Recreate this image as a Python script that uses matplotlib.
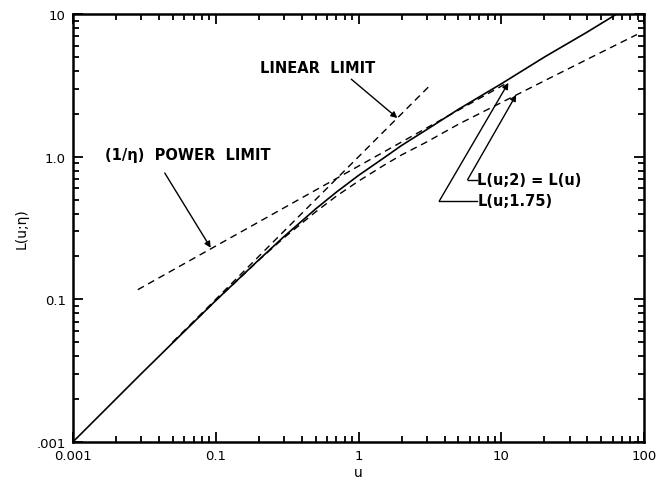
import matplotlib
matplotlib.use("Agg")
import matplotlib.pyplot as plt
from matplotlib.ticker import FixedLocator, LogLocator, NullFormatter

plt.rcParams['font.family'] = ['DejaVu Sans']

# L(u; 1.75) -- solid curve
u_175 = [0.01, 0.03, 0.1, 0.2, 0.3, 0.5, 0.7, 1.0, 1.5, 2.0, 3.0, 5.0, 10.0, 20.0, 40.0, 64.0]
L_175 = [0.01, 0.03, 0.098, 0.189, 0.275, 0.43, 0.565, 0.74, 0.98, 1.2, 1.55, 2.15, 3.25, 5.0, 7.5, 10.0]

# L(u; 2) = L(u) -- dashed curve
u_2 = [0.05, 0.1, 0.2, 0.3, 0.5, 0.7, 1.0, 1.5, 2.0, 3.0, 5.0, 10.0, 20.0, 50.0, 89.0]
L_2 = [0.05, 0.098, 0.188, 0.27, 0.41, 0.53, 0.675, 0.87, 1.03, 1.27, 1.69, 2.4, 3.41, 5.4, 7.2]

# asymptotes
u_lin = [0.05, 3.2]
L_lin = [0.05, 3.2]
u_pow = [0.0285, 11.0]
L_pow = [0.117, 3.3]

x_ticks = [0.01, 0.1, 1, 10, 100]
x_labels = ["0.001", "0.1", "1", "10", "100"]
y_ticks = [0.01, 0.1, 1, 10]
y_labels = [".001", "0.1", "1.0", "10"]

fig = plt.figure(figsize=(6.56, 4.89), dpi=100)
ax = fig.add_axes([0.111, 0.094, 0.871, 0.875])
ax.set_xscale("log")
ax.set_yscale("log")
ax.set_xlim(0.01, 100)
ax.set_ylim(0.01, 10)

dash = (0, (5, 3.5))
ax.plot(u_175, L_175, color="black", lw=1.2, solid_capstyle="butt")
ax.plot(u_2, L_2, color="black", lw=1.0, linestyle=dash)
ax.plot(u_lin, L_lin, color="black", lw=1.0, linestyle=dash)
ax.plot(u_pow, L_pow, color="black", lw=1.0, linestyle=dash)

ax.xaxis.set_major_locator(FixedLocator(x_ticks))
ax.set_xticklabels(x_labels)
ax.yaxis.set_major_locator(FixedLocator(y_ticks))
ax.set_yticklabels(y_labels)
ax.xaxis.set_minor_locator(LogLocator(base=10, subs=range(2, 10)))
ax.yaxis.set_minor_locator(LogLocator(base=10, subs=range(2, 10)))
ax.xaxis.set_minor_formatter(NullFormatter())
ax.yaxis.set_minor_formatter(NullFormatter())
ax.tick_params(which="both", direction="in", top=True, right=True, width=1.3,
               labelsize=9.5, pad=5)
ax.tick_params(which="major", length=7)
ax.tick_params(which="minor", length=4)
for s in ax.spines.values():
    s.set_linewidth(1.8)

ax.set_xlabel("u", fontsize=10, labelpad=2)
ax.set_ylabel("L(u;\u03b7)", fontsize=10, labelpad=6)

arrow = dict(arrowstyle="-|>", color="black", lw=1.0, mutation_scale=9,
             shrinkA=0, shrinkB=0)
label_kw = dict(fontsize=10.5, fontweight="bold", ha="left", va="center")

ax.text(0.205, 4.2, "LINEAR  LIMIT", **label_kw)
ax.annotate("", xy=(1.87, 1.87), xytext=(0.89, 3.5), arrowprops=arrow)

ax.text(0.0168, 1.03, "(1/\u03b7)  POWER  LIMIT", **label_kw)
ax.annotate("", xy=(0.0923, 0.23), xytext=(0.044, 0.77), arrowprops=arrow)

# leaders for the two named curves
ax.annotate("", xy=(12.7, 2.72), xytext=(5.8, 0.69), arrowprops=arrow)
ax.plot([5.8, 6.7], [0.69, 0.69], color="black", lw=1.0)
ax.text(6.8, 0.69, "L(u;2) = L(u)", **label_kw)
ax.annotate("", xy=(11.2, 3.3), xytext=(3.68, 0.49), arrowprops=arrow)
ax.plot([3.68, 6.7], [0.49, 0.49], color="black", lw=1.0)
ax.text(6.8, 0.49, "L(u;1.75)", **label_kw)

fig.savefig("out.png", dpi=100)
